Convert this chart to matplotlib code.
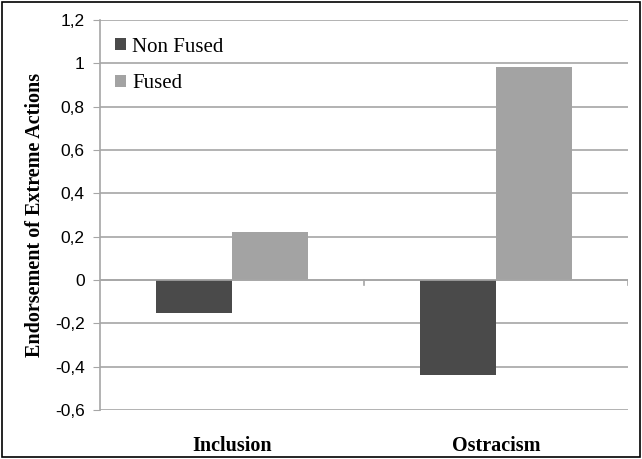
import numpy as np
import matplotlib
matplotlib.use('Agg')
import matplotlib.pyplot as plt
from matplotlib.ticker import FuncFormatter

categories = ['Inclusion', 'Ostracism']
non_fused = [-0.152, -0.441]
fused = [0.22, 0.985]
y_ticks = [-0.6, -0.4, -0.2, 0, 0.2, 0.4, 0.6, 0.8, 1.0, 1.2]

dark = '#4a4a4a'
light = '#a3a3a3'
grid_col = '#a6a6a6'

fig = plt.figure(figsize=(6.42, 4.59), dpi=100)
ax = fig.add_axes([0.156, 0.107, 0.822, 0.849])

x = np.arange(len(categories))
w = 0.288
ax.bar(x - w / 2, non_fused, w, color=dark, label='Non Fused', zorder=3)
ax.bar(x + w / 2, fused, w, color=light, label='Fused', zorder=3)

ax.set_xlim(-0.5, len(categories) - 0.5)
ax.set_ylim(-0.6, 1.2)
ax.set_yticks(y_ticks)
ax.yaxis.set_major_formatter(FuncFormatter(
    lambda v, p: ('%g' % round(v, 1)).replace('.', ',')))
ax.grid(axis='y', color=grid_col, linewidth=1.2, zorder=0)
ax.axhline(0, color=grid_col, linewidth=1.2, zorder=4)

# small ticks on the zero line at category boundaries
for b in np.arange(len(categories)) + 0.5:
    ax.plot([b, b], [0, -0.025], color=grid_col, linewidth=1.2, zorder=4)

for s in ['top', 'right', 'bottom']:
    ax.spines[s].set_visible(False)
ax.spines['left'].set_color(grid_col)
ax.spines['left'].set_linewidth(1.2)
ax.tick_params(axis='y', direction='out', length=5, color=grid_col,
               labelsize=12.5, pad=6)
for lbl in ax.get_yticklabels():
    lbl.set_family('Liberation Sans')

ax.set_xticks(x)
ax.set_xticklabels(categories, family='Liberation Serif', fontsize=14.5,
                   fontweight='bold')
ax.tick_params(axis='x', length=0, pad=19)

ax.set_ylabel('Endorsement of Extreme Actions', family='Liberation Serif',
              fontsize=14.5, fontweight='bold', labelpad=7)

leg = ax.legend(loc='upper left', frameon=False,
                prop={'family': 'Liberation Serif', 'size': 15},
                handlelength=0.55, handleheight=0.55, handletextpad=0.3,
                labelspacing=0.85, borderaxespad=0.3,
                bbox_to_anchor=(0.0, 0.993))

fig.patches.append(plt.Rectangle((0.003, 0.004), 0.994, 0.992,
                                 transform=fig.transFigure, fill=False,
                                 edgecolor='black', linewidth=1.2))

plt.savefig('out.png', dpi=100)
